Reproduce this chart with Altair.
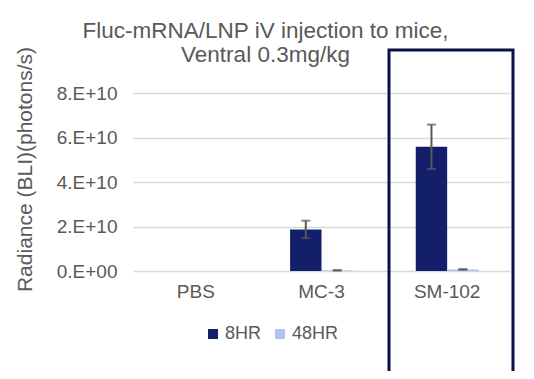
import altair as alt
import pandas as pd

categories = ["PBS", "MC-3", "SM-102"]
series = ["8HR", "48HR"]
values_8hr = [0.0, 1.87e10, 5.58e10]
errors_8hr = [None, 0.39e10, 1.0e10]
values_48hr = [0.0, 0.03e10, 0.07e10]
errors_48hr = [None, 0.01e10, 0.015e10]
y_ticks = [0, 2e10, 4e10, 6e10, 8e10]

colors = ["#131f6b", "#aec3f0"]
grey = "#595959"
font = "Liberation Sans"

rows = []
for i, c in enumerate(categories):
    rows.append({"cat": c, "series": "8HR", "val": values_8hr[i], "err": errors_8hr[i]})
    rows.append({"cat": c, "series": "48HR", "val": values_48hr[i], "err": errors_48hr[i]})
df = pd.DataFrame(rows)
df_err = df.dropna(subset=["err"]).copy()
df_err["lo"] = df_err["val"] - df_err["err"]
df_err["hi"] = df_err["val"] + df_err["err"]

xenc = alt.X("cat:N", sort=categories, title=None,
             scale=alt.Scale(paddingInner=0, paddingOuter=0),
             axis=alt.Axis(labelAngle=0, labelFontSize=19, labelColor=grey, labelFont=font,
                           ticks=False, domain=False, labelPadding=11))
xoff = alt.XOffset("series:N", sort=series,
                   scale=alt.Scale(paddingInner=0, paddingOuter=1))
yscale = alt.Scale(domain=[0, 8e10], nice=False)

bars = alt.Chart(df).mark_bar().encode(
    x=xenc,
    xOffset=xoff,
    y=alt.Y("val:Q", scale=yscale, title="Radiance (BLI)(photons/s)",
            axis=alt.Axis(values=y_ticks,
                          labelExpr="datum.value == 0 ? '0.E+00' : format(datum.value/1e10, 'd') + '.E+10'",
                          labelFontSize=19, labelColor=grey, labelFont=font, labelPadding=16,
                          ticks=False, domain=False, grid=True, gridColor="#d9d9d9", gridWidth=1.6,
                          titleFontSize=21, titleColor=grey, titleFont=font, titleFontWeight="normal",
                          titleX=-108, titleY=76, titleAngle=-90, titleAlign="center",
                          titleBaseline="middle")),
    color=alt.Color("series:N", sort=series,
                    scale=alt.Scale(domain=series, range=colors),
                    legend=alt.Legend(title=None, orient="none", direction="horizontal",
                                      legendX=71, legendY=232, symbolType="square",
                                      symbolSize=100, symbolStrokeWidth=0,
                                      labelFontSize=18, labelColor=grey, labelFont=font,
                                      labelOffset=3, columnPadding=9, padding=0)),
)

rules = alt.Chart(df_err).mark_rule(color=grey, strokeWidth=2).encode(
    x=xenc, xOffset=xoff, y=alt.Y("lo:Q", scale=yscale), y2="hi:Q")
cap_lo = alt.Chart(df_err).mark_tick(color=grey, thickness=2, size=9, orient="horizontal").encode(
    x=xenc, xOffset=xoff, y=alt.Y("lo:Q", scale=yscale))
cap_hi = alt.Chart(df_err).mark_tick(color=grey, thickness=2, size=9, orient="horizontal").encode(
    x=xenc, xOffset=xoff, y=alt.Y("hi:Q", scale=yscale))

box = alt.Chart(pd.DataFrame({"k": [0]})).mark_rect(
    fill=None, stroke="#0b1048", strokeWidth=3).encode(
    x=alt.value(256), x2=alt.value(380), y=alt.value(-43), y2=alt.value(284))

chart = alt.layer(bars, rules, cap_lo, cap_hi, box).properties(
    width=377, height=178,
    autosize=alt.AutoSizeParams(type="none"),
    padding={"left": 125, "top": 85, "right": 16, "bottom": 100},
    title=alt.TitleParams(["Fluc-mRNA/LNP iV injection to mice,", "Ventral 0.3mg/kg"],
                          anchor="middle", frame="group", dx=-56, dy=30, fontSize=22.5,
                          fontWeight="normal", color=grey, font=font, lineHeight=24, offset=10),
).configure_view(stroke=None)

chart.save("out.html", embed_options={"renderer": "svg", "actions": False})
